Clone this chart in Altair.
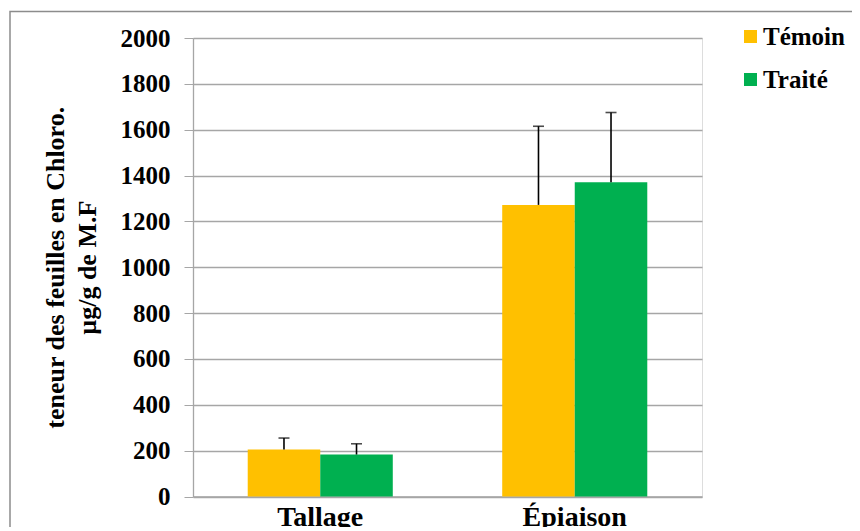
import altair as alt
import pandas as pd

stages = ["Tallage", "Épiaison"]
series = ["Témoin", "Traité"]
temoin = [205, 1272]
traite = [183, 1371]
err_temoin = [50, 343]
err_traite = [47, 304]
colors = ["#FFC000", "#00B050"]

rows = []
for i, s in enumerate(stages):
    rows.append({"stage": s, "serie": "Témoin", "val": temoin[i], "up": temoin[i] + err_temoin[i]})
    rows.append({"stage": s, "serie": "Traité", "val": traite[i], "up": traite[i] + err_traite[i]})
df = pd.DataFrame(rows)

FONT = "'Liberation Serif', 'Times New Roman', 'DejaVu Serif', serif"

x = alt.X("stage:N", sort=stages, title=None,
          scale=alt.Scale(paddingInner=0.43, paddingOuter=0.215),
          axis=alt.Axis(labelAngle=0, labelFont=FONT, labelFontSize=28, labelFontWeight="bold",
                        labelColor="black", ticks=False, labelPadding=7, labelBaseline="top",
                        domainColor="#a6a6a6", domainWidth=1.3))
xo = alt.XOffset("serie:N", sort=series)

bars = alt.Chart(df).mark_bar().encode(
    x=x, xOffset=xo,
    y=alt.Y("val:Q", scale=alt.Scale(domain=[0, 2000]),
            title=["teneur des feuilles en Chloro.", "µg/g de M.F"],
            axis=alt.Axis(values=list(range(0, 2001, 200)), format="d", labelFont=FONT, labelFontSize=25,
                          labelFontWeight="bold", labelColor="black", tickSize=9, tickColor="#a6a6a6",
                          labelPadding=14, domainColor="#a6a6a6", domainWidth=1.3,
                          gridColor="#a6a6a6", gridWidth=1.3,
                          titleFont=FONT, titleFontSize=26, titleFontWeight="bold", titleColor="black",
                          titlePadding=20, titleLineHeight=32)),
    color=alt.Color("serie:N", sort=series, scale=alt.Scale(domain=series, range=colors),
                    legend=alt.Legend(title=None, orient="none", legendX=545, legendY=-14,
                                      symbolType="square", symbolSize=169, symbolStrokeWidth=0,
                                      labelFont=FONT, labelFontSize=25, labelFontWeight="bold",
                                      labelColor="black", rowPadding=17, labelOffset=0)),
)

rules = alt.Chart(df).mark_rule(color="black", strokeWidth=1.6).encode(
    x=alt.X("stage:N", sort=stages), xOffset=xo, y="val:Q", y2="up:Q")
caps = alt.Chart(df).mark_tick(color="black", thickness=1.6, size=11, orient="horizontal").encode(
    x=alt.X("stage:N", sort=stages), xOffset=xo, y="up:Q")

frame = alt.Chart(alt.Data(values=[{}])).mark_rect(fill="transparent", stroke="#8c8c8c", strokeWidth=1.5).encode(
    x=alt.value(-183), x2=alt.value(700), y=alt.value(-26.5), y2=alt.value(491))

chart = alt.layer(bars, rules, caps, frame).properties(
    width=509, height=458.5,
    padding={"left": 185, "top": 30, "right": 150, "bottom": 30},
    autosize=alt.AutoSizeParams(type="none"),
).configure_view(stroke=None).configure(background="white")

chart.save("out.html", embed_options={"renderer": "svg", "actions": False})
